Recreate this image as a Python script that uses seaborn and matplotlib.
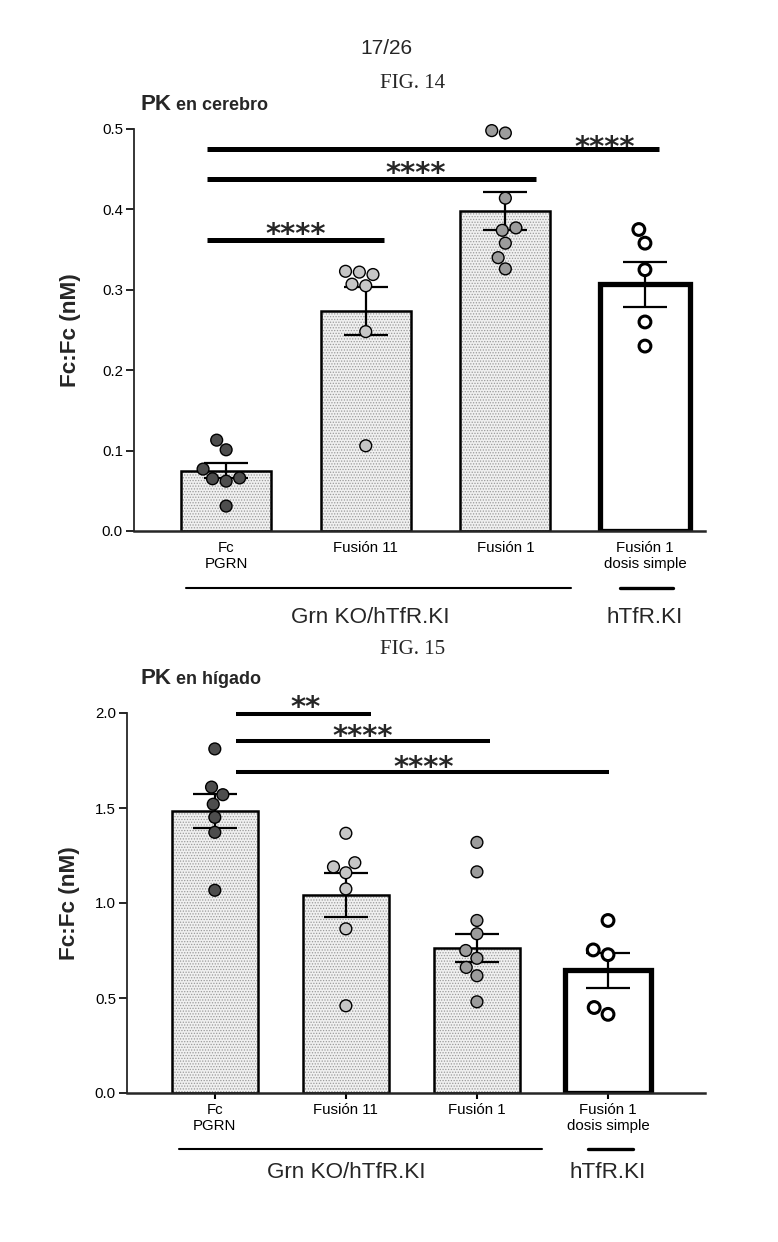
import matplotlib
matplotlib.use("Agg")
import matplotlib.pyplot as plt
import matplotlib.transforms as mtransforms
from matplotlib import font_manager
import pandas as pd
import seaborn as sns

# categories (x axis) and the two mouse lines underneath
groups = ["Fc\nPGRN", "Fusión 11", "Fusión 1", "Fusión 1\ndosis simple"]
cohort_labels = ["Grn KO/hTfR.KI", "hTfR.KI"]

# FIG. 14 - PK en cerebro, Fc:Fc (nM)
brain_mean = [0.075, 0.274, 0.398, 0.307]
brain_sem = [0.0095, 0.030, 0.0235, 0.028]
brain_fc_pgrn = [0.113, 0.101, 0.077, 0.066, 0.062, 0.065, 0.031]
brain_fusion11 = [0.323, 0.319, 0.322, 0.307, 0.305, 0.248, 0.106]
brain_fusion1 = [0.495, 0.498, 0.414, 0.377, 0.374, 0.358, 0.340, 0.326]
brain_fusion1_single = [0.375, 0.358, 0.325, 0.260, 0.230]
brain_sig_to = [1, 2, 3]
brain_sig_y = [0.362, 0.438, 0.475]
brain_sig_text = ["****", "****", "****"]

# FIG. 15 - PK en hígado, Fc:Fc (nM)
liver_mean = [1.485, 1.041, 0.764, 0.647]
liver_sem = [0.088, 0.116, 0.073, 0.092]
liver_fc_pgrn = [1.811, 1.610, 1.570, 1.520, 1.451, 1.372, 1.067]
liver_fusion11 = [1.367, 1.190, 1.212, 1.159, 1.074, 0.864, 0.459]
liver_fusion1 = [1.319, 1.164, 0.908, 0.838, 0.750, 0.709, 0.661, 0.617, 0.480]
liver_fusion1_single = [0.908, 0.728, 0.753, 0.450, 0.414]
liver_sig_to = [1, 2, 3]
liver_sig_y = [1.993, 1.855, 1.690]
liver_sig_text = ["**", "****", "****"]

sns.set_theme(style="ticks")
names = {f.name for f in font_manager.fontManager.ttflist}
NARROW = "Liberation Sans Narrow" if "Liberation Sans Narrow" in names else "Liberation Sans"
SCALE = 1.0 if NARROW == "Liberation Sans Narrow" else 0.9
plt.rcParams["font.family"] = [NARROW, "DejaVu Sans"]
plt.rcParams["hatch.linewidth"] = 0.6
plt.rcParams["axes.linewidth"] = 1.3

W, H = 778, 1242
fig = plt.figure(figsize=(W / 100, H / 100), dpi=100)

bar_fill = ["#f0f0f0", "#f0f0f0", "#f0f0f0", "white"]
bar_hatch = ["......", "......", "......", ""]
bar_lw = [1.8, 1.8, 1.8, 3.8]
dot_fill = ["#4d4d4d", "#c6c6c6", "#9c9c9c", "white"]
dot_lw = [1.0, 1.0, 1.0, 2.2]

brain_layout = dict(
    rect=[134 / W, 1 - 531 / H, 571 / W, 402 / H],
    ylim=(0, 0.5), yticks=[0.0, 0.1, 0.2, 0.3, 0.4, 0.5], fmt="{:.1f}",
    xlim=(-0.66, 3.43), bar_w=0.645,
    sig_x0=-0.14, sig_x1=[1.13, 2.22, 3.10], sig_lw=3.6,
    star_x=[0.5, 1.36, 2.71], star_y=[0.379, 0.455, 0.487],
    xtick_len=0, xtick_pad=7,
    ylabel_x=-0.112,
    cohort_y=-0.142, cohort_text_y=-0.214,
    cohort_lines=[(-0.29, 2.47), (2.82, 3.20)], cohort_text_x=[1.03, 3.0],
)
liver_layout = dict(
    rect=[127 / W, 1 - 1093 / H, 578 / W, 380 / H],
    ylim=(0, 2.0), yticks=[0.0, 0.5, 1.0, 1.5, 2.0], fmt="{:.1f}",
    xlim=(-0.67, 3.74), bar_w=0.656,
    sig_x0=0.16, sig_x1=[1.19, 2.10, 3.01], sig_lw=2.9,
    star_x=[0.69, 1.13, 1.59], star_y=[2.075, 1.922, 1.760],
    xtick_len=4, xtick_pad=3,
    ylabel_x=-0.099,
    cohort_y=-0.147, cohort_text_y=-0.2105,
    cohort_lines=[(-0.27, 2.50), (2.85, 3.19)], cohort_text_x=[1.0, 3.0],
)


def draw_panel(ax, means, sems, points, sig_to, sig_y, sig_text, lay):
    bar_df = pd.DataFrame({"grupo": groups, "valor": means})
    dot_df = pd.DataFrame({
        "grupo": [g for g, vals in zip(groups, points) for _ in vals],
        "valor": [v for vals in points for v in vals],
    })

    # stippled fill
    sns.barplot(data=bar_df, x="grupo", y="valor", order=groups, hue="grupo",
                hue_order=groups, palette=dict(zip(groups, bar_fill)),
                width=lay["bar_w"], errorbar=None, legend=False, ax=ax)
    for patch, hatch in zip(ax.patches, bar_hatch):
        patch.set_hatch(hatch)
        patch.set_edgecolor("#9a9a9a")
        patch.set_linewidth(0)
        patch.set_zorder(1)

    # black outlines
    n0 = len(ax.patches)
    sns.barplot(data=bar_df, x="grupo", y="valor", order=groups, color="black",
                fill=False, width=lay["bar_w"], errorbar=None, ax=ax)
    for patch, lw in zip(ax.patches[n0:], bar_lw):
        patch.set_edgecolor("black")
        patch.set_facecolor("none")
        patch.set_linewidth(lw)
        patch.set_zorder(2)

    ax.errorbar(range(len(groups)), means, yerr=sems, fmt="none", ecolor="black",
                elinewidth=1.6, capsize=16, capthick=1.6, zorder=3)

    n_col = len(ax.collections)
    sns.swarmplot(data=dot_df, x="grupo", y="valor", order=groups, hue="grupo",
                  hue_order=groups, palette=dict(zip(groups, dot_fill)), size=8.5,
                  edgecolor="black", linewidth=1.0, legend=False, ax=ax)
    for coll, lw in zip(ax.collections[n_col:], dot_lw):
        coll.set_linewidth(lw)
        coll.set_edgecolor("black")
        coll.set_zorder(4)
        coll.set_clip_on(False)

    ax.set_xlim(lay["xlim"])
    ax.set_ylim(lay["ylim"])
    ax.set_yticks(lay["yticks"], [lay["fmt"].format(t) for t in lay["yticks"]])
    ax.set_xticks(range(len(groups)), groups)
    ax.set_xlabel("")
    ax.set_ylabel("Fc:Fc (nM)", fontsize=18 * SCALE, fontweight="bold", va="center")
    ax.yaxis.set_label_coords(lay["ylabel_x"], 0.5)
    ax.spines[["top", "right"]].set_visible(False)
    ax.spines["bottom"].set_linewidth(1.8)
    ax.tick_params(axis="y", length=6, width=1.2, labelsize=12 * SCALE, pad=2, colors="black")
    ax.tick_params(axis="x", length=lay["xtick_len"], width=1.5, labelsize=12 * SCALE,
                   pad=lay["xtick_pad"], colors="black")

    # significance bars
    for end, y, txt, sx, sy in zip(sig_to, sig_y, sig_text, lay["star_x"], lay["star_y"]):
        ax.plot([lay["sig_x0"], lay["sig_x1"][end - 1]], [y, y], color="black",
                lw=lay["sig_lw"], solid_capstyle="butt", clip_on=False, zorder=5)
        ax.annotate(txt, xy=(sx, sy), xytext=(0, -12.2), textcoords="offset points",
                    ha="center", va="baseline", fontsize=21, fontweight="bold",
                    family="DejaVu Sans", annotation_clip=False)

    # cohort brackets below the axis
    trans = mtransforms.blended_transform_factory(ax.transData, ax.transAxes)
    for (x0, x1), lw in zip(lay["cohort_lines"], [1.5, 2.4]):
        ax.plot([x0, x1], [lay["cohort_y"]] * 2, color="black", lw=lw,
                transform=trans, clip_on=False)
    for label, x in zip(cohort_labels, lay["cohort_text_x"]):
        ax.text(x, lay["cohort_text_y"], label, transform=trans, ha="center",
                va="center", fontsize=18 * SCALE)


ax1 = fig.add_axes(brain_layout["rect"])
draw_panel(ax1, brain_mean, brain_sem,
           [brain_fc_pgrn, brain_fusion11, brain_fusion1, brain_fusion1_single],
           brain_sig_to, brain_sig_y, brain_sig_text, brain_layout)

ax2 = fig.add_axes(liver_layout["rect"])
draw_panel(ax2, liver_mean, liver_sem,
           [liver_fc_pgrn, liver_fusion11, liver_fusion1, liver_fusion1_single],
           liver_sig_to, liver_sig_y, liver_sig_text, liver_layout)

# page header and figure captions
fig.text(386 / W, 1 - 48 / H, "17/26", ha="center", va="center", fontsize=15,
         family="Liberation Sans")
fig.text(413 / W, 1 - 84 / H, "FIG. 14", ha="center", va="center", fontsize=15,
         family="Liberation Serif")
fig.text(413 / W, 1 - 650 / H, "FIG. 15", ha="center", va="center", fontsize=15,
         family="Liberation Serif")

renderer = fig.canvas.get_renderer()
for y_px, rest in [(110, " en cerebro"), (684, " en hígado")]:
    pk = fig.text(140 / W, 1 - y_px / H, "PK", fontsize=16, fontweight="bold",
                  family="Liberation Sans", va="baseline")
    bb = pk.get_window_extent(renderer)
    fig.text(bb.x1 / fig.dpi / fig.get_figwidth(), 1 - y_px / H, rest, fontsize=13,
             fontweight="bold", family="Liberation Sans", va="baseline")

fig.savefig("out.png", dpi=100)
